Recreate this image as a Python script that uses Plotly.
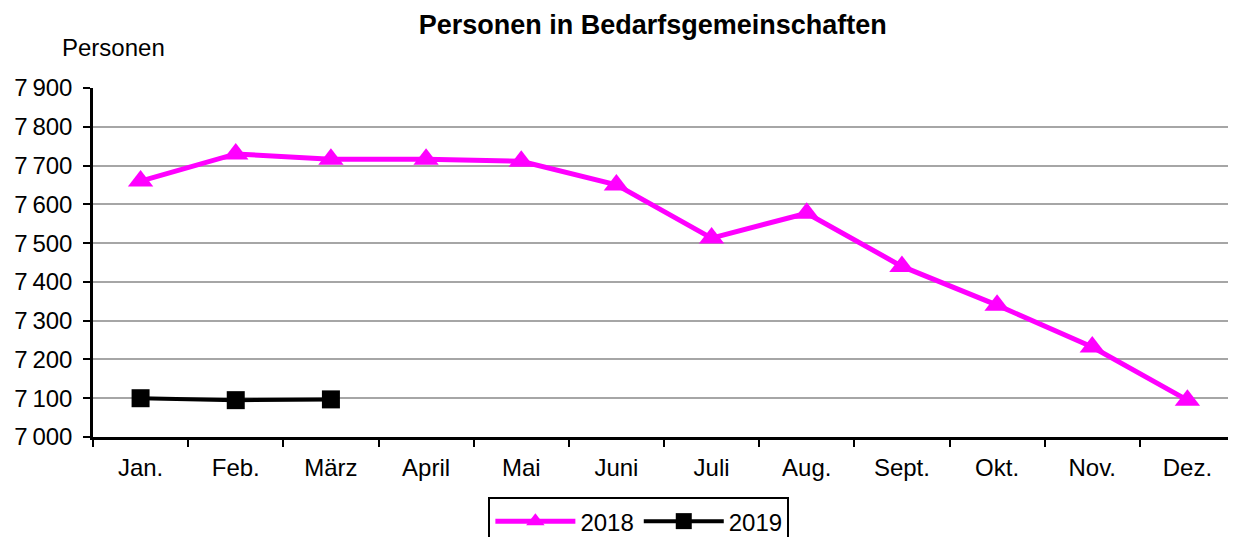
import plotly.graph_objects as go

months = ["Jan.", "Feb.", "März", "April", "Mai", "Juni", "Juli", "Aug.", "Sept.", "Okt.", "Nov.", "Dez."]
persons_2018 = [7660, 7730, 7716, 7716, 7711, 7650, 7513, 7577, 7440, 7340, 7232, 7095]
persons_2019 = [7100, 7095, 7097]

FONT = "Liberation Sans, Arial, sans-serif"

fig = go.Figure()

fig.add_trace(go.Scatter(
    x=months, y=persons_2018, name="2018",
    mode="lines+markers",
    line=dict(color="#ff00ff", width=5),
    marker=dict(symbol="triangle-up", size=22, color="#ff00ff"),
))

fig.add_trace(go.Scatter(
    x=months[:len(persons_2019)], y=persons_2019, name="2019",
    mode="lines+markers",
    line=dict(color="#000000", width=4),
    marker=dict(symbol="square", size=18, color="#000000"),
))

# page body has an 8px default margin, so the figure is 8px smaller than the window
# legend is cut off at the bottom like the original -> no margin autoexpand
fig.update_layout(
    width=1228, height=529,
    margin=dict(l=85, r=1, t=80, b=100, autoexpand=False),
    paper_bgcolor="white", plot_bgcolor="white",
    separators=",\u2009",
    font=dict(family=FONT, size=24, color="#000000"),
    title=dict(
        text="<b>Personen in Bedarfsgemeinschaften</b>",
        x=0.525, xanchor="center", y=0.968, yanchor="middle",
        font=dict(family=FONT, size=27),
    ),
    showlegend=True,
    legend=dict(
        orientation="h", x=0.478, xanchor="center", y=-0.172, yanchor="top",
        bordercolor="#000000", borderwidth=2,
        font=dict(family=FONT, size=24),
        itemwidth=80,
    ),
    annotations=[dict(
        text="Personen", xref="paper", yref="paper",
        x=-0.029, y=1.117, xanchor="left", yanchor="middle",
        showarrow=False, font=dict(family=FONT, size=24),
    )],
)

fig.update_xaxes(
    type="category", range=[-0.5, 11.5],
    tickson="boundaries", ticks="outside", ticklen=7, tickwidth=2, tickcolor="#000000",
    showline=True, linecolor="#000000", linewidth=2.5,
    showgrid=False, ticklabelstandoff=7,
)

fig.update_yaxes(
    range=[7000, 7900], dtick=100, tickformat=",d",
    ticks="outside", ticklen=7, tickwidth=2, tickcolor="#000000",
    showline=True, linecolor="#000000", linewidth=2.5,
    showgrid=True, gridcolor="#a6a6a6", gridwidth=1.5,
    zeroline=False, ticklabelstandoff=6,
)

fig.write_html("out.html")
